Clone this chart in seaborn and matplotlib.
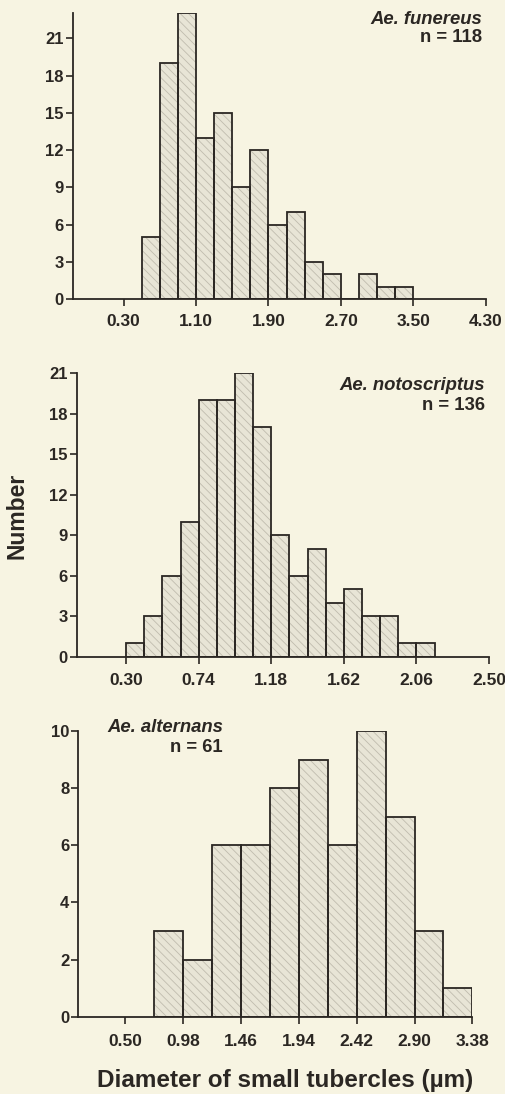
import numpy as np
import pandas as pd
import matplotlib
matplotlib.use("Agg")
import matplotlib.pyplot as plt
import seaborn as sns

# --- data (bin left edges, bin widths, counts) ---
fun_starts = [0.5, 0.7, 0.9, 1.1, 1.3, 1.5, 1.7, 1.9, 2.1, 2.3, 2.5, 2.7, 2.9, 3.1, 3.3]
fun_counts = [5, 19, 23, 13, 15, 9, 12, 6, 7, 3, 2, 0, 2, 1, 1]
fun_width = 0.2
fun_ticks = [0.30, 1.10, 1.90, 2.70, 3.50, 4.30]
fun_yticks = [0, 3, 6, 9, 12, 15, 18, 21]

not_starts = [0.30, 0.41, 0.52, 0.63, 0.74, 0.85, 0.96, 1.07, 1.18, 1.29,
              1.40, 1.51, 1.62, 1.73, 1.84, 1.95, 2.06]
not_counts = [1, 3, 6, 10, 19, 19, 21, 17, 9, 6, 8, 4, 5, 3, 3, 1, 1]
not_width = 0.11
not_ticks = [0.30, 0.74, 1.18, 1.62, 2.06, 2.50]
not_yticks = [0, 3, 6, 9, 12, 15, 18, 21]

alt_starts = [0.74, 0.98, 1.22, 1.46, 1.70, 1.94, 2.18, 2.42, 2.66, 2.90, 3.14]
alt_counts = [3, 2, 6, 6, 8, 9, 6, 10, 7, 3, 1]
alt_width = 0.24
alt_ticks = [0.50, 0.98, 1.46, 1.94, 2.42, 2.90, 3.38]
alt_yticks = [0, 2, 4, 6, 8, 10]

bg = "#f7f4e2"
ink = "#2b2723"
W, H = 506, 1094

sns.set_style("ticks")
plt.rcParams["font.family"] = ["Liberation Sans", "DejaVu Sans"]
plt.rcParams["hatch.linewidth"] = 0.6

fig = plt.figure(figsize=(W / 100, H / 100), dpi=100, facecolor=bg)

panels = [
    dict(starts=fun_starts, counts=fun_counts, width=fun_width, ticks=fun_ticks,
         yticks=fun_yticks, xlim=(-0.26, 4.30), ylim=(0, 23), xpad=6,
         rect=[0.144, 0.7267, 0.816, 0.261]),
    dict(starts=not_starts, counts=not_counts, width=not_width, ticks=not_ticks,
         yticks=not_yticks, xlim=(0.0, 2.50), ylim=(0, 21), xpad=7,
         rect=[0.1516, 0.3997, 0.8148, 0.2590]),
    dict(starts=alt_starts, counts=alt_counts, width=alt_width, ticks=alt_ticks,
         yticks=alt_yticks, xlim=(0.11, 3.38), ylim=(0, 10), xpad=7.5,
         rect=[0.1547, 0.0707, 0.7788, 0.2611]),
]

axes = []
for p in panels:
    ax = fig.add_axes(p["rect"], facecolor=bg)
    df = pd.DataFrame({"x": np.array(p["starts"]) + p["width"] / 2, "n": p["counts"]})
    edges = list(p["starts"]) + [p["starts"][-1] + p["width"]]
    # hatched fill layer
    sns.histplot(data=df, x="x", weights="n", bins=edges, ax=ax,
                 color="#e8e5d6", alpha=1, edgecolor="#c0bcae", linewidth=0,
                 hatch="\\\\\\\\")
    # outline layer
    sns.histplot(data=df, x="x", weights="n", bins=edges, ax=ax,
                 fill=False, color=ink, linewidth=1.3)
    ax.set_xlim(*p["xlim"])
    ax.set_ylim(*p["ylim"])
    ax.set_xticks(p["ticks"])
    ax.set_xticklabels([f"{t:.2f}" for t in p["ticks"]])
    ax.set_yticks(p["yticks"])
    ax.set_xlabel("")
    ax.set_ylabel("")
    sns.despine(ax=ax)
    for s in ["left", "bottom"]:
        ax.spines[s].set_color(ink)
        ax.spines[s].set_linewidth(1.3)
    ax.tick_params(direction="out", length=5, width=1.2, color=ink,
                   labelcolor=ink)
    ax.tick_params(axis="y", labelsize=12, pad=1.5)
    ax.tick_params(axis="x", labelsize=12.5, pad=p["xpad"])
    for lab in ax.get_xticklabels() + ax.get_yticklabels():
        lab.set_fontweight("bold")
    axes.append(ax)


def put(x, y, s, **kw):
    fig.text(x / W, 1 - y / H, s, color=ink, fontweight="bold", va="center", **kw)


put(482, 19, "Ae. funereus", ha="right", style="italic", fontsize=13.3)
put(482, 38, "n = 118", ha="right", fontsize=13.3)
put(485, 386, "Ae. notoscriptus", ha="right", style="italic", fontsize=13.3)
put(485, 405, "n = 136", ha="right", fontsize=13.3)
put(107, 728, "Ae. alternans", ha="left", style="italic", fontsize=13.3)
put(223, 748, "n = 61", ha="right", fontsize=13.3)

put(17, 516, "Number", ha="center", rotation=90, fontsize=16.5)
put(285, 1080, "Diameter of small tubercles (\u00b5m)", ha="center", fontsize=17.5)

fig.savefig("out.png", dpi=100, facecolor=bg)
